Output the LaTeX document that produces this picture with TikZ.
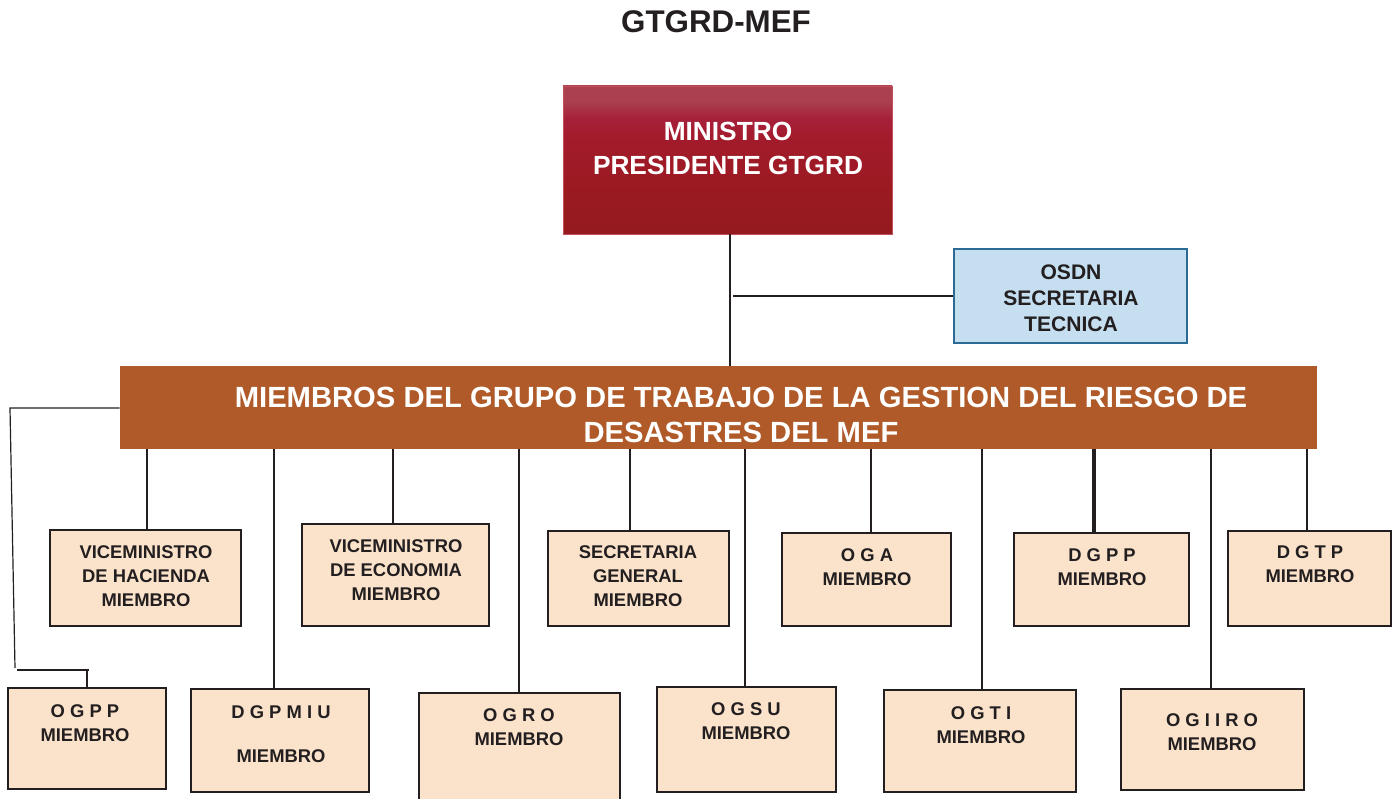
\documentclass[tikz,border=0pt]{standalone}
\usepackage{fontspec}
\setmainfont{Liberation Sans}
\usetikzlibrary{fit}
\definecolor{peach}{HTML}{FBE3CB}
\definecolor{bandc}{HTML}{AF5A28}
\definecolor{edge}{HTML}{231F20}
\definecolor{lblue}{HTML}{C5DFF0}
\definecolor{dblue}{HTML}{2A6A94}
\definecolor{txt}{HTML}{231F20}
\definecolor{redtop}{HTML}{AA4050}
\definecolor{redhi}{HTML}{A6203A}
\definecolor{redmid}{HTML}{A31B2C}
\definecolor{redlow}{HTML}{9C1A22}
\definecolor{redbot}{HTML}{941A1F}
\definecolor{rededge}{HTML}{C4505C}
\pgfdeclareverticalshading{minshade}{100bp}{color(0bp)=(redbot); color(25bp)=(redbot); color(42bp)=(redlow); color(58bp)=(redmid); color(64bp)=(redhi); color(70bp)=(redtop); color(100bp)=(redtop)}
\begin{document}
\begin{tikzpicture}[x=0.75pt,y=-0.75pt,
  mbox/.style={draw=edge,line width=1.7pt,fill=peach,inner sep=0pt},
  mtext/.style={font=\bfseries\fontsize{13.8}{18}\selectfont,text=txt,align=center,inner sep=0pt},
  conn/.style={draw=edge,line width=0.9pt},
  thickconn/.style={draw=edge,line width=2.3pt}]
\useasboundingbox (0,0) rectangle (1397,799);

% title
\node[font=\bfseries\fontsize{23.5}{28}\selectfont,text=txt,inner sep=0pt] (title) at (716,22) {GTGRD-MEF};

% top boxes
\node[fit={(563,86)(892,234)},inner sep=0pt,draw=rededge,line width=0.6pt,
      shading=minshade] (min) {};
\node[font=\bfseries\fontsize{19.7}{25.5}\selectfont,text=white,align=center,inner sep=0pt] (mint) at (728,148) {MINISTRO\\PRESIDENTE GTGRD};

\node[fit={(954,249)(1187,343)},inner sep=0pt,draw=dblue,line width=0.8pt,fill=lblue] (osdn) {};
\node[font=\bfseries\fontsize{15.8}{19.5}\selectfont,text=txt,align=center,inner sep=0pt] (osdnt) at (1071,298) {OSDN\\SECRETARIA\\TECNICA};

\node[fit={(120,366)(1317,449)},inner sep=0pt,fill=bandc] (band) {};
\node[font=\bfseries\fontsize{21.9}{26.25}\selectfont,text=white,align=center,inner sep=0pt] (bandt) at (741,414.5) {MIEMBROS DEL GRUPO DE TRABAJO DE LA GESTION DEL RIESGO DE\\DESASTRES DEL MEF};

% row 1 boxes
\node[mbox,fit={(50,530)(241,626)}] (vh) {};
\node[mbox,fit={(302,524)(489,626)}] (ve) {};
\node[mbox,fit={(548,531)(729,626)}] (sg) {};
\node[mbox,fit={(782,533)(951,626)}] (oga) {};
\node[mbox,fit={(1014,533)(1189,626)}] (dgpp) {};
\node[mbox,fit={(1228,531)(1391,626)}] (dgtp) {};
% row 2 boxes
\node[mbox,fit={(8,688)(166,789)}] (ogpp) {};
\node[mbox,fit={(191,689)(369,792)}] (dgpmiu) {};
\node[mbox,fit={(419,693)(620,805)}] (ogro) {};
\node[mbox,fit={(657,687)(836,792)}] (ogsu) {};
\node[mbox,fit={(884,690)(1076,792)}] (ogti) {};
\node[mbox,fit={(1121,689)(1304,790)}] (ogiiro) {};

% connector x positions
\coordinate (cmin) at (730,0);
\coordinate (cos) at (733,296);
\coordinate (cvh) at (147,0);
\coordinate (cve) at (393,0);
\coordinate (csg) at (630,0);
\coordinate (coga) at (871,0);
\coordinate (cdgpp) at (1094,0);
\coordinate (cdgtp) at (1307,0);
\coordinate (cdgpmiu) at (274,0);
\coordinate (cogro) at (519,0);
\coordinate (cogsu) at (745,0);
\coordinate (cogti) at (982,0);
\coordinate (cogiiro) at (1211,0);
\coordinate (lc1) at (10,408);
\coordinate (lc2) at (15,668);
\coordinate (lc3) at (17,670);
\coordinate (lc4) at (89,670);

% connectors
\draw[conn] (min.south -| cmin) -- (band.north -| cmin);
\draw[conn] (cos) -- (osdn.west |- cos);
\draw[conn] (band.south -| cvh) -- (vh.north -| cvh);
\draw[conn] (band.south -| cve) -- (ve.north -| cve);
\draw[conn] (band.south -| csg) -- (sg.north -| csg);
\draw[conn] (band.south -| coga) -- (oga.north -| coga);
\draw[thickconn] (band.south -| cdgpp) -- (dgpp.north -| cdgpp);
\draw[conn] (band.south -| cdgtp) -- (dgtp.north -| cdgtp);
\draw[conn] (band.south -| cdgpmiu) -- (dgpmiu.north -| cdgpmiu);
\draw[conn] (band.south -| cogro) -- (ogro.north -| cogro);
\draw[conn] (band.south -| cogsu) -- (ogsu.north -| cogsu);
\draw[conn] (band.south -| cogti) -- (ogti.north -| cogti);
\draw[conn] (band.south -| cogiiro) -- (ogiiro.north -| cogiiro);
\draw[conn] (band.west |- lc1) -- (lc1) -- (lc2);
\draw[conn] (lc3) -- (lc4);
\draw[conn] (ogpp.north |- lc4) -- (ogpp.north);

% texts
\node[mtext] (vht) at (146,576) {VICEMINISTRO\\DE HACIENDA\\MIEMBRO};
\node[mtext] (vet) at (396,570) {VICEMINISTRO\\DE ECONOMIA\\MIEMBRO};
\node[mtext] (sgt) at (638,576) {SECRETARIA\\GENERAL\\MIEMBRO};
\node[mtext] (ogat) at (867,567) {O G A\\MIEMBRO};
\node[mtext] (dgppt) at (1102,567) {D G P P\\MIEMBRO};
\node[mtext] (dgtpt) at (1310,564.5) {D G T P\\MIEMBRO};
\node[mtext] (ogppt) at (85,723) {O G P P\\MIEMBRO};
\node[mtext] (dgpmiut) at (281,734.5) {D G P M I U\\[15pt]MIEMBRO};
\node[mtext] (ogrot) at (519,727) {O G R O\\MIEMBRO};
\node[mtext] (ogsut) at (746,721) {O G S U\\MIEMBRO};
\node[mtext] (ogtit) at (981,725) {O G T I\\MIEMBRO};
\node[mtext] (ogiirot) at (1212,732) {O G I I R O\\MIEMBRO};
\end{tikzpicture}
\end{document}
